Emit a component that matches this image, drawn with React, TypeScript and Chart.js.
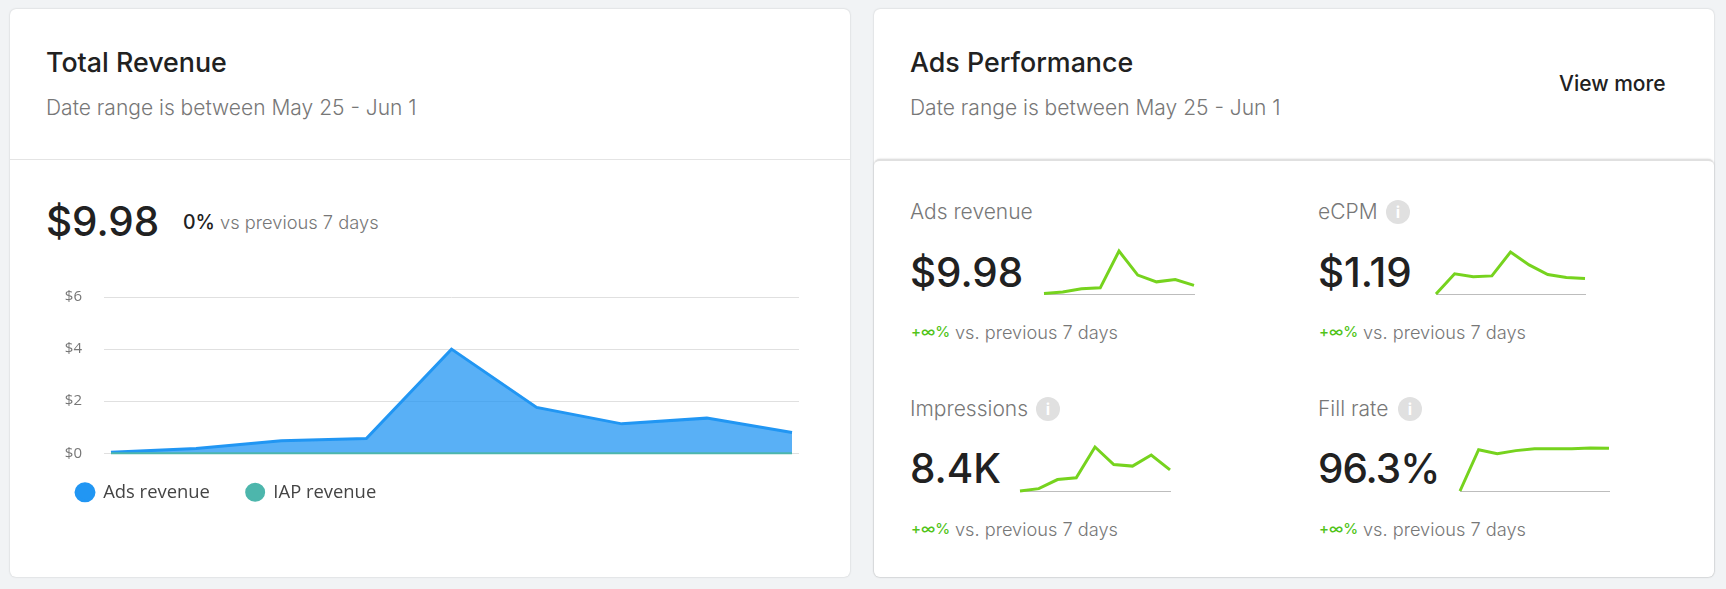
import React, { useEffect, useRef } from "react";
import { Chart, registerables } from "chart.js";

Chart.register(...registerables);

const dayIndex = [0, 1, 2, 3, 4, 5, 6, 7, 8];
const adsRevenue = [0.04, 0.18, 0.48, 0.57, 4.0, 1.76, 1.13, 1.35, 0.8];
const iapRevenue = [0, 0, 0, 0, 0, 0, 0, 0, 0];
const ecpm = [0, 0.77, 0.66, 0.69, 1.6, 1.11, 0.74, 0.63, 0.59];
const impressions = [0, 110, 535, 615, 2060, 1240, 1165, 1685, 990];
const fillRate = [0, 94.2, 85.1, 92, 96.5, 96.5, 96.5, 98, 97.3];
const yTicks = [0, 2, 4, 6];

const SANS = "Inter, sans-serif";
const CHART_FONT = '"Open Sans", sans-serif';

function Text(p: { x: number; cy: number; size: number; weight?: number; color: string; spacing?: number; children: React.ReactNode }) {
  return (
    <div
      style={{
        position: "absolute",
        left: p.x,
        top: p.cy - 20,
        height: 40,
        lineHeight: "40px",
        fontFamily: SANS,
        fontSize: p.size,
        fontWeight: p.weight ?? 400,
        color: p.color,
        letterSpacing: p.spacing ?? 0,
        whiteSpace: "nowrap",
      }}
    >
      {p.children}
    </div>
  );
}

function Info(p: { cx: number; cy: number }) {
  return (
    <div
      style={{
        position: "absolute",
        left: p.cx - 12,
        top: p.cy - 12,
        width: 24,
        height: 24,
        borderRadius: 12,
        background: "#E0E0E0",
        color: "#fff",
        fontFamily: SANS,
        fontWeight: 700,
        fontSize: 16,
        lineHeight: "24px",
        textAlign: "center",
      }}
    >
      i
    </div>
  );
}

function Spark(p: { x: number; width: number; base: number; rise: number; values: number[] }) {
  const ref = useRef<HTMLCanvasElement>(null);
  const pad = 4;
  useEffect(() => {
    const chart = new Chart(ref.current!, {
      type: "line",
      data: {
        labels: dayIndex,
        datasets: [
          {
            data: p.values,
            borderColor: "#76D31E",
            borderWidth: 3,
            pointRadius: 0,
            tension: 0,
            fill: false,
            clip: false,
          },
        ],
      },
      options: {
        animation: false,
        responsive: false,
        events: [],
        layout: { padding: pad },
        plugins: { legend: { display: false }, tooltip: { enabled: false } },
        scales: {
          x: {
            type: "linear",
            min: 0,
            max: 8,
            grid: { display: false, drawTicks: false },
            ticks: { display: false },
            border: { display: true, color: "#BDBDBD", width: 1 },
          },
          y: { display: false, min: 0, max: Math.max(...p.values) },
        },
      },
    });
    return () => chart.destroy();
  }, []);
  return (
    <canvas
      ref={ref}
      width={p.width + pad * 2}
      height={p.rise + pad * 2}
      style={{ position: "absolute", left: p.x - pad, top: p.base - p.rise - pad, width: p.width + pad * 2, height: p.rise + pad * 2 }}
    />
  );
}

function RevenueChart() {
  const ref = useRef<HTMLCanvasElement>(null);
  useEffect(() => {
    const chart = new Chart(ref.current!, {
      type: "line",
      data: {
        labels: dayIndex,
        datasets: [
          {
            label: "Ads revenue",
            data: adsRevenue,
            borderColor: "#2196F3",
            backgroundColor: "#2196F3",
            borderWidth: 3,
            pointRadius: 0,
            tension: 0,
            fill: { target: "origin", above: "rgba(33,150,243,0.75)" },
            clip: false,
            order: 2,
          },
          {
            label: "IAP revenue",
            data: iapRevenue,
            borderColor: "#4DB6AC",
            backgroundColor: "#4DB6AC",
            borderWidth: 2,
            pointRadius: 0,
            tension: 0,
            fill: false,
            clip: false,
            order: 1,
          },
        ],
      },
      options: {
        animation: false,
        responsive: false,
        events: [],
        layout: { padding: { left: 29.7, right: 51, top: 17, bottom: 0 } },
        plugins: {
          tooltip: { enabled: false },
          legend: {
            position: "bottom",
            align: "start",
            labels: {
              usePointStyle: true,
              pointStyle: "circle",
              pointStyleWidth: 18,
              boxHeight: 12,
              padding: 36.3,
              color: "#444",
              font: { family: CHART_FONT, size: 18.4 },
              sort: (a: any, b: any) => a.datasetIndex - b.datasetIndex,
            },
          },
        },
        scales: {
          x: { type: "linear", min: -0.082, max: 8.082, display: false },
          y: {
            min: 0,
            max: 6,
            afterFit: (s: any) => {
              s.width = 64.3;
            },
            afterBuildTicks: (s: any) => {
              s.ticks = yTicks.map((value) => ({ value }));
            },
            border: { display: false },
            grid: { color: "#E0E0E0", lineWidth: 1, drawTicks: true, tickLength: 22, tickColor: "rgba(0,0,0,0)" },
            ticks: {
              padding: 0,
              color: "#777",
              font: { family: CHART_FONT, size: 15 },
              callback: (v: any) => "$" + v,
            },
          },
        },
      },
      plugins: [
        {
          id: "legendLift",
          afterLayout(c: any) {
            c.legend.top -= 6.5;
            c.legend.bottom -= 6.5;
          },
        },
      ],
    });
    return () => chart.destroy();
  }, []);
  return <canvas ref={ref} width={840} height={238} style={{ position: "absolute", left: 10, top: 280, width: 840, height: 238 }} />;
}

function Delta(p: { x: number; cy: number }) {
  return (
    <>
      <Text x={p.x} cy={p.cy} size={15} weight={500} color="#52C41A">+∞%</Text>
      <Text x={p.x + 44} cy={p.cy} size={18.2} weight={300} color="#777">vs. previous 7 days</Text>
    </>
  );
}

const card: React.CSSProperties = {
  position: "absolute",
  background: "#fff",
  borderRadius: 6,
  boxShadow: "0 0 2px rgba(0,0,0,0.2)",
};

export default function App() {
  return (
    <div style={{ position: "absolute", left: 0, top: 0, width: 1726, height: 589, background: "#F1F3F5", overflow: "hidden" }}>
      <div style={{ ...card, left: 10, top: 9, width: 840, height: 568 }} />
      <div style={{ position: "absolute", left: 10, top: 159, width: 840, height: 1, background: "#E4E4E4" }} />
      <Text x={46} cy={62} size={26.8} weight={500} color="#212121">Total Revenue</Text>
      <Text x={46} cy={108} size={21} weight={300} color="#777">Date range is between May 25 - Jun 1</Text>
      <Text x={46} cy={222} size={40.4} weight={500} color="#212121">$9.98</Text>
      <Text x={183} cy={222} size={19.5} weight={500} color="#212121">0%</Text>
      <Text x={220} cy={222} size={18.3} weight={300} color="#777">vs previous 7 days</Text>
      <RevenueChart />

      <div style={{ ...card, left: 874, top: 9, width: 840, height: 568 }} />
      <div style={{ ...card, left: 874, top: 159, width: 840, height: 418, borderTop: "2px solid #E0E0E0", boxSizing: "border-box" }} />
      <Text x={910} cy={62} size={26.8} weight={500} color="#212121">Ads Performance</Text>
      <Text x={910} cy={108} size={21} weight={300} color="#777">Date range is between May 25 - Jun 1</Text>
      <Text x={1559} cy={84} size={21} weight={500} color="#212121">View more</Text>

      <Text x={910} cy={212} size={21} weight={300} color="#777">Ads revenue</Text>
      <Text x={910} cy={273} size={40.4} weight={500} color="#212121">$9.98</Text>
      <Spark x={1044} width={150} base={294} rise={43} values={adsRevenue} />
      <Delta x={911} cy={332} />

      <Text x={1318} cy={212} size={21} weight={300} color="#777">eCPM</Text>
      <Info cx={1398} cy={212} />
      <Text x={1318} cy={273} size={40.4} weight={500} color="#212121">$1.19</Text>
      <Spark x={1436} width={149} base={294} rise={42} values={ecpm} />
      <Delta x={1319} cy={332} />

      <Text x={910} cy={409} size={21} weight={300} color="#777">Impressions</Text>
      <Info cx={1048} cy={409} />
      <Text x={910} cy={469} size={40.4} weight={500} color="#212121">8.4K</Text>
      <Spark x={1020} width={150} base={491} rise={44} values={impressions} />
      <Delta x={911} cy={529} />

      <Text x={1318} cy={409} size={21} weight={300} color="#777">Fill rate</Text>
      <Info cx={1410} cy={409} />
      <Text x={1318} cy={469} size={40.4} weight={500} color="#212121" spacing={-1}>96.3%</Text>
      <Spark x={1460} width={149} base={491} rise={43} values={fillRate} />
      <Delta x={1319} cy={529} />
    </div>
  );
}
